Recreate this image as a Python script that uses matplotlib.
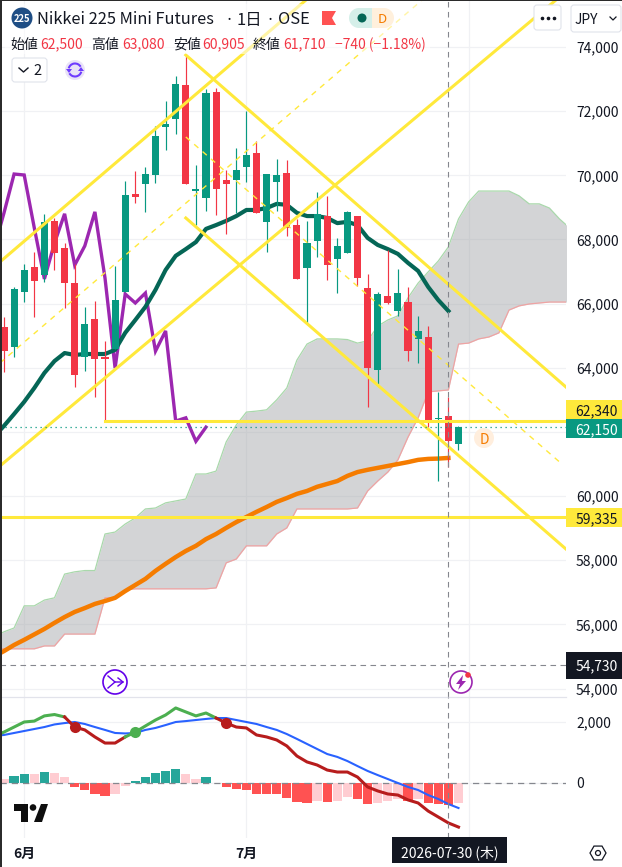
import numpy as np
import matplotlib
matplotlib.use("Agg")
import matplotlib.pyplot as plt
from matplotlib.patches import Circle, Rectangle, FancyBboxPatch, Polygon, Arc, Wedge

plt.rcParams["font.family"] = ["Noto Sans CJK JP", "DejaVu Sans"]

# =========================================================
# Data
# =========================================================
opens = [65270, 64650, 66360, 67140, 66890, 68580, 67740, 66640, 64340, 65520,
         64340, 64590, 66360, 69420, 69730, 70010, 71510, 71760, 72820, 69510,
         69290, 72600, 69850, 69850, 70260, 70700, 68550, 69790, 70070, 68450,
         67110, 67950, 68730, 67390, 67580, 68730, 66490, 63930, 66240, 65770,
         66050, 64900, 64960, 62400, 62500, 61620]
highs = [65580, 66520, 67240, 67610, 68800, 68670, 67890, 67240, 65900, 66080,
         64840, 67170, 69820, 70140, 70260, 71540, 72320, 73100, 73720, 70320,
         72690, 72720, 70170, 70850, 72000, 71070, 70040, 70510, 70480, 68640,
         68580, 69480, 69360, 68050, 68890, 68730, 66920, 66360, 67670, 67080,
         66520, 65620, 65300, 63250, 63080, 62180]
lows = [63870, 64340, 66050, 65580, 66680, 67050, 65870, 63400, 63900, 63090,
        62340, 64590, 66360, 69140, 68860, 69760, 70790, 71290, 69730, 68450,
        68890, 68760, 68170, 68830, 69790, 68830, 67610, 68890, 68110, 66770,
        65400, 67450, 66740, 66330, 67580, 66550, 62780, 63500, 65990, 65620,
        64210, 64150, 62150, 60470, 60905, 61440]
closes = [64520, 66460, 67050, 66710, 68550, 67580, 66640, 63780, 65370, 64280,
          64280, 66110, 69390, 69320, 70040, 71230, 71600, 72850, 69730, 69570,
          72570, 69570, 69730, 70170, 70630, 68830, 70040, 70010, 68360, 66770,
          67890, 68800, 67200, 67800, 68860, 66800, 63990, 66300, 66020, 66330,
          64520, 65150, 62340, 62440, 61710, 62150]

# the overlay series below start one bar before the first candle, off the left edge
ma_short = [61850, 62190, 62560, 62940, 63370, 63840, 64210, 64460, 64400, 64430, 64430,
            64430, 64560, 65090, 65490, 65900, 66430, 67050, 67490, 67700, 67920,
            68330, 68450, 68580, 68730, 68920, 68920, 68980, 69110, 69080, 68830,
            68730, 68730, 68670, 68510, 68550, 68450, 68050, 67830, 67700, 67550,
            67270, 67020, 66520, 66110, 65770]
ma_long = [55000, 55170, 55360, 55520, 55690, 55860, 56050, 56230, 56390, 56510, 56640,
           56730, 56830, 57040, 57230, 57420, 57670, 57890, 58100, 58290, 58450,
           58660, 58820, 59010, 59190, 59350, 59510, 59660, 59820, 59940, 60070,
           60160, 60290, 60380, 60470, 60630, 60750, 60820, 60880, 60940, 61000,
           61060, 61130, 61160, 61170, 61190]
lagging = [67700, 68830, 70040, 70010, 68360, 66770, 67890, 68800, 67200, 67800, 68860,
           66800, 63990, 66300, 66020, 66330, 64520, 65150, 62340, 62440, 61710,
           62150]

cloud_upper = [55620, 55770, 55890, 56580, 56580, 56760, 56830, 57570, 57640, 57680, 57680,
               58820, 58880, 59130, 59320, 59600, 59630, 59790, 59850, 59910, 60690,
               60690, 60780, 61690, 62220, 62620, 62650, 62690, 63000, 63370, 64240,
               64740, 64900, 64900, 64900, 64880, 64770, 64840, 65300, 65490, 65620,
               66180, 66640, 66990, 67330, 67770, 68640, 69170, 69510, 69510, 69510,
               69510, 69360, 69110, 69110, 68980, 68640, 68360]
cloud_lower = [55240, 55240, 55240, 55240, 55240, 55330, 55330, 55700, 55700, 55700, 55700,
               56830, 56830, 57080, 57110, 57110, 57110, 57110, 57110, 57110, 57110,
               57110, 57140, 57920, 58040, 58450, 58450, 58450, 58820, 59010, 59600,
               59600, 59600, 59600, 59600, 59600, 59630, 60160, 60470, 60750, 61130,
               61840, 62440, 63250, 63280, 63310, 64740, 64770, 64900, 64960, 65090,
               65800, 65930, 65990, 66020, 66050, 66050, 66050]

macd_line = [1530, 1670, 1835, 2000, 2030, 2200, 2245, 2165, 1835, 1740, 1510,
             1310, 1310, 1510, 1670, 1870, 2065, 2230, 2460, 2330, 2200,
             2295, 2130, 1965, 1835, 1805, 1575, 1510, 1410, 1215, 885,
             690, 590, 425, 360, 360, 195, -130, -260, -360, -395,
             -555, -655, -920, -1115, -1310, -1445]
signal_line = [1540, 1575, 1640, 1705, 1770, 1835, 1920, 1965, 2000, 1935, 1835,
               1740, 1640, 1625, 1640, 1740, 1805, 1900, 2000, 2030, 2065,
               2100, 2130, 2130, 2065, 2000, 1935, 1835, 1740, 1605, 1445,
               1280, 1115, 950, 855, 720, 555, 395, 260, 130, 0,
               -130, -230, -395, -525, -690, -820]
macd_hist = [140, 240, 305, 305, 370, 340, 205, -120, -220, -350,
             -415, -350, -90, 75, 205, 340, 405, 470, 305, 140,
             205, 10, -120, -185, -220, -350, -350, -350, -480, -615,
             -645, -580, -615, -580, -450, -515, -680, -645, -580, -515,
             -580, -515, -645, -680, -710, -645]
macd_cross_pos = [8, 14, 23]
macd_cross_up = [False, True, False]
macd_span_ends = [7, 13, 22, 46]

# drawings, each (bar, price, bar, price)
channel_up_top = (-0.4, 67300, 29.9, 75465)
channel_up_mid = (-0.4, 64150, 41.4, 75465)
channel_up_bottom = (-0.4, 60940, 54.65, 75465)
channel_down_top = (18, 73750, 55.64, 63400)
channel_down_mid = (18, 71195, 55.35, 60970)
channel_down_bottom = (18, 68670, 55.64, 58350)
level_upper = 62340
level_lower = 59335
level_upper_start = 10
last_price = 62150
cursor_price = 54730
cursor_bar = 44

price_ticks = [74000, 72000, 70000, 68000, 66000, 64000, 62000, 60000, 58000, 56000, 54000]
price_tick_labels = ["74,000", "72,000", "70,000", "68,000", "66,000", "64,000", "",
                     "60,000", "58,000", "56,000", "54,000"]
macd_ticks = [2000, 0]
macd_tick_labels = ["2,000", "0"]
month_ticks = [2, 24, 46]
month_labels = ["6月", "7月", ""]

# =========================================================
# Configuration
# =========================================================
W, H = 622, 867
PANE_RIGHT = 566
PANE_SPLIT = 697
PANE_BOTTOM = 838
BAR_X0 = 4
BAR_STEP = 10.1
PX_PER_PRICE = 0.03208
PX_PER_MACD = 0.0305
AXIS_FONT = 10

UP = "#089981"
DOWN = "#F23645"
YELLOW = "#FFE93B"
GRID = "#F0F1F4"
TEXT = "#131722"
CROSS = "#85878E"

xlim = (-BAR_X0 / BAR_STEP, (PANE_RIGHT - BAR_X0) / BAR_STEP)


def axes_box(top, bottom):
    return [0, 1 - bottom / H, PANE_RIGHT / W, (bottom - top) / H]


fig = plt.figure(figsize=(W / 100, H / 100), dpi=100, facecolor="white")
ax = fig.add_axes(axes_box(0, PANE_SPLIT))
ax_macd = fig.add_axes(axes_box(PANE_SPLIT, PANE_BOTTOM))
deco = fig.add_axes([0, 0, 1, 1], zorder=10)
deco.set_xlim(0, W)
deco.set_ylim(H, 0)
deco.axis("off")
deco.patch.set_alpha(0)

# =========================================================
# Price pane
# =========================================================
ax.set_xlim(*xlim)
ax.set_ylim(74000 - (PANE_SPLIT - 47) / PX_PER_PRICE, 74000 + 47 / PX_PER_PRICE)

bars = np.arange(len(closes))
cloud_x = np.arange(len(cloud_upper)) - 1
ax.fill_between(cloud_x, cloud_lower, cloud_upper, color="#A8AAAE", alpha=0.5, linewidth=0, zorder=1)
ax.plot(cloud_x, cloud_upper, color="#A9D8AB", lw=0.9, zorder=1.5)
ax.plot(cloud_x, cloud_lower, color="#EFA3A3", lw=0.9, zorder=1.5)

ax.plot(np.arange(len(lagging)) - 1, lagging, color="#9C27B0", lw=2.4, solid_joinstyle="miter", zorder=2)
ax.plot(np.arange(len(ma_short)) - 1, ma_short, color="#056656", lw=3.0, zorder=2)
ax.plot(np.arange(len(ma_long)) - 1, ma_long, color="#F57C00", lw=3.2, zorder=2)

colors = [UP if c >= o else DOWN for o, c in zip(opens, closes)]
ax.vlines(bars, lows, highs, colors=colors, lw=0.85, zorder=3)
body_low = np.minimum(opens, closes)
body_high = np.maximum(opens, closes)
ax.bar(bars, body_high - body_low, bottom=body_low, width=0.7, color=colors, linewidth=0, zorder=3)

for line in (channel_up_top, channel_up_bottom, channel_down_top, channel_down_bottom):
    ax.plot([line[0], line[2]], [line[1], line[3]], color=YELLOW, lw=2.2, zorder=4)
for line in (channel_up_mid, channel_down_mid):
    ax.plot([line[0], line[2]], [line[1], line[3]], color=YELLOW, lw=1.0, dashes=(4, 4), zorder=4)
ax.plot([level_upper_start, xlim[1]], [level_upper, level_upper], color=YELLOW, lw=2.2, zorder=4)
ax.axhline(level_lower, color=YELLOW, lw=2.2, zorder=4)
ax.axhline(last_price, color=UP, lw=0.9, dashes=(1, 3), zorder=4)
ax.axhline(cursor_price, color=CROSS, lw=0.8, dashes=(5, 4), zorder=5)

# =========================================================
# MACD pane
# =========================================================
ax_macd.set_xlim(*xlim)
ax_macd.set_ylim(-(PANE_BOTTOM - 783) / PX_PER_MACD, (783 - PANE_SPLIT) / PX_PER_MACD)

hist_colors = ["#FFCDD2"]
for prev, val in zip(macd_hist[:-1], macd_hist[1:]):
    if val >= 0:
        hist_colors.append("#26A69A" if val > prev else "#FFCDD2")
    else:
        hist_colors.append("#FF5252" if val <= prev else "#FFCDD2")
ax_macd.bar(bars, macd_hist, width=0.92, color=hist_colors, linewidth=0, zorder=2)
ax_macd.axhline(0, color=CROSS, lw=0.9, dashes=(5, 4), zorder=3)

macd_x = np.arange(len(macd_line)) - 1
ax_macd.plot(macd_x, signal_line, color="#2962FF", lw=1.5, zorder=4)

start = 0
up_span = True
for end in macd_span_ends:
    ax_macd.plot(macd_x[start:end + 1], macd_line[start:end + 1],
                 color="#4CAF50" if up_span else "#B71C1C", lw=2.2, zorder=5)
    start = end
    up_span = not up_span
for pos, is_up in zip(macd_cross_pos, macd_cross_up):
    ax_macd.plot(macd_x[pos], macd_line[pos], "o", ms=8, mew=0, color="#4CAF50" if is_up else "#B71C1C", zorder=6)

# =========================================================
# Axis styling
# =========================================================
for a, ticks, labels in ((ax, price_ticks, price_tick_labels), (ax_macd, macd_ticks, macd_tick_labels)):
    a.yaxis.tick_right()
    a.set_yticks(ticks)
    a.set_yticklabels(labels, fontsize=AXIS_FONT, color=TEXT)
    a.tick_params(axis="y", length=0, pad=7.2)
    a.set_xticks(month_ticks)
    a.grid(True, color=GRID, lw=0.9, zorder=0)
    a.set_axisbelow(True)
    for spine in a.spines.values():
        spine.set_visible(False)
ax.tick_params(axis="x", length=0, labelbottom=False)
ax_macd.set_xticklabels(month_labels, fontsize=AXIS_FONT, color=TEXT, fontweight="bold")
ax_macd.tick_params(axis="x", length=0, pad=6.5)
ax_macd.spines["top"].set_visible(True)
ax_macd.spines["top"].set_color("#E2E3EB")
ax_macd.spines["top"].set_linewidth(0.9)
ax.axvline(cursor_bar, color=CROSS, lw=0.8, dashes=(5, 4), zorder=5)
ax_macd.axvline(cursor_bar, color=CROSS, lw=0.8, dashes=(5, 4), zorder=5)


def price_tag(a, tag_price, label, face, color, height_px=19):
    # flag on the price scale, placed with the axes own y scale
    trans = a.get_yaxis_transform()
    h = height_px / PX_PER_PRICE
    a.add_patch(Rectangle((1.0, tag_price - h / 2), (W - PANE_RIGHT) / PANE_RIGHT, h, transform=trans,
                          facecolor=face, edgecolor="none", clip_on=False, zorder=6))
    a.text(1 + 52 / PANE_RIGHT, tag_price, label, transform=trans, ha="right", va="center_baseline",
           fontsize=AXIS_FONT, color=color, clip_on=False, zorder=7)


# the scale pushes the two close flags apart
price_tag(ax, 62700, "62,340", YELLOW, TEXT)
price_tag(ax, 62110, "62,150", UP, "white")
price_tag(ax, level_lower, "59,335", YELLOW, TEXT)
price_tag(ax, cursor_price, "54,730", TEXT, "white", height_px=27)

# =========================================================
# Header and icons
# =========================================================
# frame
deco.add_patch(Rectangle((0, 0), 2.4, H, color="#2B2B2B", lw=0))
deco.add_patch(Rectangle((0, 0), W, 1, color="#2B2B2B", lw=0))

# legend background fades what runs under it
deco.add_patch(Rectangle((5, 4), 425, 50, facecolor="white", alpha=0.55, lw=0))

deco.add_patch(Circle((22, 18), 10.5, color="#1F4E85", lw=0))
deco.text(22, 18, "225", color="white", fontsize=6.8, ha="center", va="center_baseline", fontweight="bold")
title_parts = [(37, "Nikkei 225 Mini Futures"), (224.5, "·"), (237, "1日"), (265.5, "·"), (278, "OSE")]
for x, s in title_parts:
    deco.text(x, 18, s, color=TEXT, fontsize=11.8, ha="left", va="center_baseline")

deco.add_patch(Polygon([(322, 11), (336, 11), (332, 18), (336, 25), (322, 25)], color="#FF5252", lw=0))
deco.add_patch(Rectangle((359, 8), 13, 20, color="#D5EFE9", lw=0))
deco.add_patch(Wedge((359, 18), 10, 90, 270, color="#D5EFE9", lw=0))
deco.add_patch(Rectangle((372, 8), 12, 20, color="#FFF0DC", lw=0))
deco.add_patch(Wedge((384, 18), 10, -90, 90, color="#FFF0DC", lw=0))
deco.add_patch(Circle((362, 18), 4.5, color="#056656", lw=0))
deco.text(382, 18, "D", color="#F57C00", fontsize=9.5, ha="center", va="center_baseline")

label_parts = [(10, "始値", TEXT), (40, "62,500", DOWN), (91, "高値", TEXT), (122, "63,080", DOWN),
               (173, "安値", TEXT), (202, "60,905", DOWN), (253, "終値", TEXT), (283, "61,710", DOWN),
               (335, "−740 (−1.18%)", DOWN)]
for x, s, c in label_parts:
    deco.text(x, 43, s, color=c, fontsize=10, ha="left", va="center_baseline")

deco.add_patch(FancyBboxPatch((12, 58), 35, 24, boxstyle="round,pad=0,rounding_size=3",
                              facecolor="white", edgecolor="#E0E3EB", lw=0.8))
deco.plot([19, 23.5, 28], [68, 72, 68], color=TEXT, lw=1.0)
deco.text(38, 69.5, "2", color=TEXT, fontsize=10.5, ha="center", va="center_baseline")

deco.add_patch(Circle((75, 70), 10, color="#E9E3F7", lw=0))
deco.add_patch(Arc((75, 70), 13, 13, angle=0, theta1=195, theta2=330, color="#6E3BFF", lw=1.5))
deco.add_patch(Arc((75, 70), 13, 13, angle=0, theta1=15, theta2=150, color="#6E3BFF", lw=1.5))
deco.add_patch(Polygon([(66, 69), (72, 69), (69, 73)], color="#6E3BFF", lw=0))
deco.add_patch(Polygon([(78, 71), (84, 71), (81, 67)], color="#6E3BFF", lw=0))

deco.add_patch(FancyBboxPatch((534, 5), 27, 25, boxstyle="round,pad=0,rounding_size=3",
                              facecolor="white", edgecolor="#E0E3EB", lw=0.8))
deco.plot([541.5, 547.5, 553.5], [18, 18, 18], "o", ms=1.6, color=TEXT)
deco.add_patch(FancyBboxPatch((571, 5), 50, 27, boxstyle="round,pad=0,rounding_size=3",
                              facecolor="white", edgecolor="#E0E3EB", lw=0.8))
deco.text(575, 18, "JPY", color=TEXT, fontsize=AXIS_FONT, ha="left", va="center_baseline")
deco.plot([610, 613, 616], [17, 20, 17], color=TEXT, lw=0.9)

# D badge beside the last bar
deco.add_patch(Circle((484, 438), 10, color="#FFEEDD", lw=0))
deco.text(484, 438, "D", color="#F57C00", fontsize=10, ha="center", va="center_baseline")

# time marks
deco.add_patch(Circle((115, 682), 12, facecolor="white", edgecolor="#6200EA", lw=1.2))
deco.plot([108, 115, 123], [676, 682, 682], color="#6200EA", lw=1.0)
deco.plot([108, 115], [688, 682], color="#6200EA", lw=1.0)
deco.plot([118, 123, 118], [678, 682, 686], color="#6200EA", lw=1.0)
deco.add_patch(Circle((461, 682), 11, facecolor="white", edgecolor="#9C27B0", lw=1.2))
deco.add_patch(Polygon([(463, 675), (456, 684), (460, 684), (458, 690), (466, 681), (462, 681)],
                       color="#9C27B0", lw=0))
deco.add_patch(Circle((468, 675), 2.8, color="#F23645", lw=0))

# TradingView mark
deco.add_patch(Polygon([(14, 804), (28, 804), (28, 822), (21, 822), (21, 811), (14, 811)], color="#0E0E0E", lw=0))
deco.add_patch(Circle((33, 807.5), 3.3, color="#0E0E0E", lw=0))
deco.add_patch(Polygon([(41, 804), (48, 804), (42, 822), (34, 822)], color="#0E0E0E", lw=0))

# time label and settings
deco.add_patch(Rectangle((392, 837), 115, 26, color=TEXT, lw=0))
deco.text(449.5, 851.5, "2026-07-30 (木)", color="white", fontsize=AXIS_FONT, ha="center", va="center_baseline")
hex_x = 598 + 8 * np.cos(np.arange(6) * np.pi / 3)
hex_y = 853 + 8 * np.sin(np.arange(6) * np.pi / 3)
deco.add_patch(Polygon(np.column_stack([hex_x, hex_y]), facecolor="white", edgecolor=TEXT, lw=0.9))
deco.add_patch(Circle((598, 853), 2.5, facecolor="white", edgecolor=TEXT, lw=0.9))

fig.savefig("out.png", dpi=100, facecolor="white")
